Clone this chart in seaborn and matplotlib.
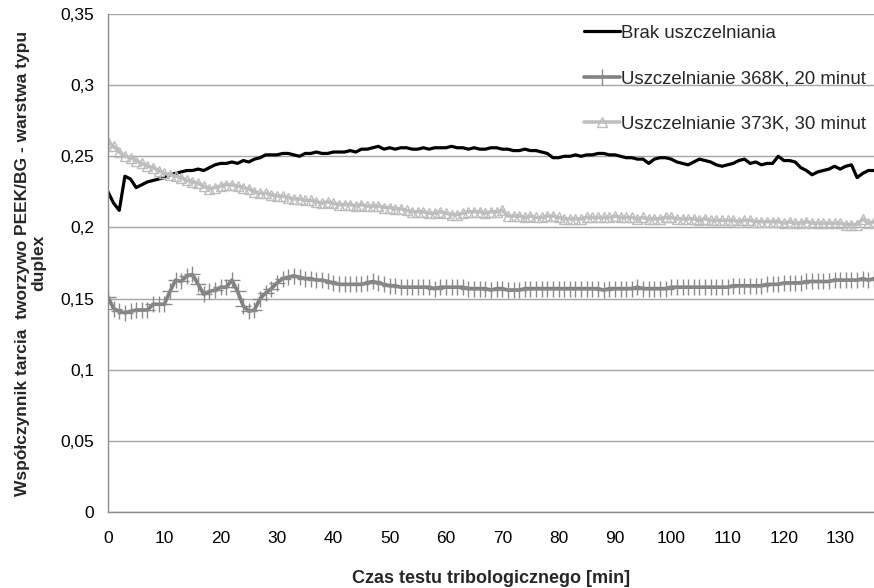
import numpy as np
import pandas as pd
import matplotlib
matplotlib.use("Agg")
import matplotlib.pyplot as plt
import seaborn as sns
from matplotlib.ticker import FuncFormatter

time_min = list(range(0, 137))

brak = [0.225, 0.217, 0.212, 0.236, 0.234, 0.228, 0.230, 0.232, 0.233, 0.234,
        0.235, 0.237, 0.238, 0.239, 0.240, 0.240, 0.241, 0.240, 0.242, 0.244,
        0.245, 0.245, 0.246, 0.245, 0.247, 0.246, 0.248, 0.249, 0.251, 0.251,
        0.251, 0.252, 0.252, 0.251, 0.250, 0.252, 0.252, 0.253, 0.252, 0.252,
        0.253, 0.253, 0.253, 0.254, 0.253, 0.255, 0.255, 0.256, 0.257, 0.255,
        0.256, 0.255, 0.256, 0.256, 0.255, 0.255, 0.256, 0.255, 0.256, 0.256,
        0.256, 0.257, 0.256, 0.256, 0.255, 0.256, 0.255, 0.255, 0.256, 0.256,
        0.255, 0.255, 0.254, 0.254, 0.255, 0.254, 0.254, 0.253, 0.252, 0.249,
        0.249, 0.250, 0.250, 0.251, 0.250, 0.251, 0.251, 0.252, 0.252, 0.251,
        0.251, 0.250, 0.249, 0.249, 0.248, 0.248, 0.245, 0.248, 0.249, 0.249,
        0.248, 0.246, 0.245, 0.244, 0.246, 0.248, 0.247, 0.246, 0.244, 0.243,
        0.244, 0.245, 0.247, 0.248, 0.245, 0.246, 0.244, 0.245, 0.245, 0.250,
        0.247, 0.247, 0.246, 0.242, 0.240, 0.237, 0.239, 0.240, 0.241, 0.243,
        0.241, 0.243, 0.244, 0.235, 0.238, 0.240, 0.240]

uszcz_368 = [0.151, 0.143, 0.141, 0.140, 0.141, 0.142, 0.142, 0.142, 0.146, 0.146,
             0.146, 0.155, 0.163, 0.162, 0.166, 0.167, 0.160, 0.153, 0.155, 0.156,
             0.158, 0.158, 0.163, 0.155, 0.145, 0.141, 0.142, 0.150, 0.154, 0.157,
             0.161, 0.164, 0.165, 0.166, 0.165, 0.164, 0.164, 0.163, 0.163, 0.162,
             0.161, 0.160, 0.160, 0.160, 0.160, 0.160, 0.161, 0.162, 0.161, 0.160,
             0.159, 0.159, 0.158, 0.158, 0.158, 0.158, 0.158, 0.158, 0.157, 0.158,
             0.158, 0.158, 0.158, 0.158, 0.157, 0.157, 0.157, 0.157, 0.156, 0.157,
             0.157, 0.156, 0.156, 0.156, 0.157, 0.157, 0.157, 0.157, 0.157, 0.157,
             0.157, 0.157, 0.157, 0.157, 0.157, 0.157, 0.157, 0.157, 0.156, 0.157,
             0.157, 0.157, 0.157, 0.157, 0.158, 0.157, 0.157, 0.157, 0.157, 0.157,
             0.158, 0.158, 0.158, 0.158, 0.158, 0.158, 0.158, 0.158, 0.158, 0.158,
             0.158, 0.159, 0.159, 0.159, 0.159, 0.159, 0.159, 0.160, 0.160, 0.160,
             0.161, 0.161, 0.161, 0.161, 0.162, 0.162, 0.162, 0.162, 0.162, 0.163,
             0.163, 0.163, 0.163, 0.163, 0.164, 0.163, 0.164]

uszcz_373 = [0.260, 0.257, 0.253, 0.250, 0.249, 0.247, 0.245, 0.243, 0.242, 0.240,
             0.238, 0.237, 0.236, 0.235, 0.233, 0.232, 0.231, 0.229, 0.227, 0.228,
             0.229, 0.230, 0.230, 0.229, 0.228, 0.227, 0.225, 0.224, 0.224, 0.223,
             0.222, 0.222, 0.221, 0.220, 0.220, 0.219, 0.219, 0.218, 0.217, 0.218,
             0.217, 0.216, 0.216, 0.216, 0.215, 0.216, 0.215, 0.215, 0.215, 0.214,
             0.214, 0.213, 0.213, 0.212, 0.211, 0.211, 0.211, 0.210, 0.210, 0.211,
             0.210, 0.209, 0.209, 0.210, 0.211, 0.211, 0.211, 0.210, 0.211, 0.211,
             0.212, 0.208, 0.208, 0.208, 0.207, 0.208, 0.207, 0.207, 0.208, 0.208,
             0.207, 0.206, 0.206, 0.206, 0.206, 0.207, 0.207, 0.207, 0.207, 0.207,
             0.208, 0.207, 0.207, 0.207, 0.206, 0.207, 0.206, 0.206, 0.206, 0.207,
             0.207, 0.206, 0.206, 0.206, 0.206, 0.205, 0.206, 0.205, 0.205, 0.205,
             0.205, 0.205, 0.204, 0.205, 0.205, 0.204, 0.204, 0.204, 0.204, 0.204,
             0.203, 0.204, 0.203, 0.203, 0.204, 0.203, 0.203, 0.203, 0.203, 0.203,
             0.203, 0.202, 0.202, 0.202, 0.206, 0.203, 0.204]

series_names = ["Brak uszczelniania",
                "Uszczelnianie 368K, 20 minut",
                "Uszczelnianie 373K, 30 minut"]

x_ticks = list(range(0, 131, 10))
y_ticks = [0, 0.05, 0.1, 0.15, 0.2, 0.25, 0.3, 0.35]

sns.set_theme(style="white")
plt.rcParams["font.family"] = ["Liberation Sans", "DejaVu Sans"]

fig = plt.figure(figsize=(8.74, 5.88), dpi=100)
ax = fig.add_axes([108 / 874, 1 - 512 / 588, 1 - 108 / 874, (512 - 14) / 588])

df = pd.DataFrame({"t": time_min, "a": brak, "b": uszcz_368, "c": uszcz_373})

sns.lineplot(data=df, x="t", y="a", ax=ax, color="black", lw=2.3,
             label=series_names[0])
sns.lineplot(data=df, x="t", y="b", ax=ax, color="#808080", lw=2.6,
             marker="+", markersize=11, mew=1.0, mec="#8a8a8a",
             label=series_names[1])
sns.lineplot(data=df, x="t", y="c", ax=ax, color="#c0c0c0", lw=2.6,
             marker="^", markersize=6.5, mfc="none", mec="#bdbdbd", mew=1.0,
             label=series_names[2])

ax.set_xlim(0, 136)
ax.set_ylim(0, 0.35)
ax.set_xticks(x_ticks)
ax.set_yticks(y_ticks)
ax.yaxis.set_major_formatter(FuncFormatter(lambda v, p: ("%g" % round(v, 2)).replace(".", ",")))

ax.grid(axis="y", color="#a6a6a6", lw=1.0)
ax.grid(axis="x", visible=False)
for s in ["top", "right"]:
    ax.spines[s].set_visible(False)
for s in ["left", "bottom"]:
    ax.spines[s].set_color("#8c8c8c")
    ax.spines[s].set_linewidth(1.0)

ax.tick_params(axis="both", which="major", direction="out", length=5, width=1,
               color="#8c8c8c", labelsize=12.5, labelcolor="black")
ax.tick_params(axis="x", pad=9)
ax.tick_params(axis="y", pad=5)

ax.set_xlabel("Czas testu tribologicznego [min]", fontsize=13, fontweight="bold",
              labelpad=17)
ax.set_ylabel("Współczynnik tarcia  tworzywo PEEK/BG - warstwa typu\nduplex",
              fontsize=12.5, fontweight="bold", labelpad=10, linespacing=1.1)

leg = ax.legend(loc="upper left", bbox_to_anchor=(0.622, 0.978), frameon=False,
                borderaxespad=0, borderpad=0, labelspacing=1.53,
                handlelength=1.9, handletextpad=0.05, fontsize=13.4)

fig.savefig("out.png", dpi=100)
